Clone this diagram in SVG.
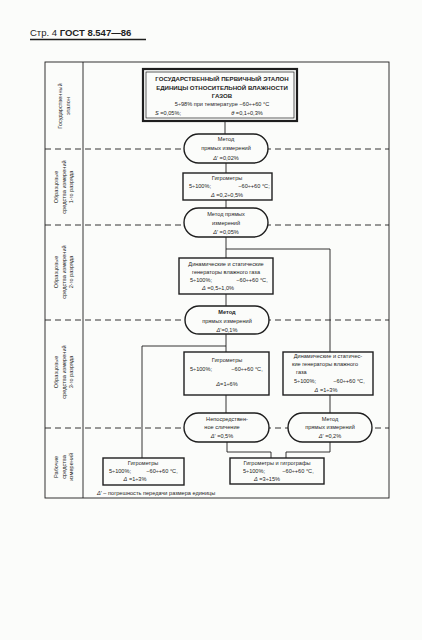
<svg xmlns="http://www.w3.org/2000/svg" width="422" height="640" viewBox="0 0 422 640">
<style>
text{font-family:"Liberation Sans",Arial,sans-serif;fill:#1e1e1e;font-size:5.6px;text-anchor:middle}
.b{font-weight:bold}
.cap{font-weight:bold;font-size:6.1px}
.side{font-size:5.4px}
.box{fill:#fbfcfa;stroke:#1e1e1e;stroke-width:1.4}
.ln{fill:none;stroke:#1e1e1e;stroke-width:0.9}
.dash{fill:none;stroke:#1e1e1e;stroke-width:0.9;stroke-dasharray:6 4}
.i{font-style:italic}
</style>
<rect x="0" y="0" width="422" height="640" fill="#fbfcfa"/>
<g id="header">
<text x="30" y="36" style="font-size:9.5px;text-anchor:start;font-weight:bold"><tspan style="font-weight:normal">Стр. 4</tspan> ГОСТ 8.547—86</text>
<line x1="30" y1="39.5" x2="146" y2="39.5" stroke="#1e1e1e" stroke-width="1.3"/>
</g>
<g id="frame">
<rect x="45" y="62" width="344" height="436" class="ln" stroke-width="1.1"/>
<line x1="83" y1="62" x2="83" y2="498" class="ln"/>
<line x1="45" y1="149" x2="389" y2="149" class="dash"/>
<line x1="45" y1="225" x2="389" y2="225" class="dash"/>
<line x1="45" y1="320" x2="389" y2="320" class="dash"/>
<line x1="45" y1="428" x2="389" y2="428" class="dash"/>
</g>
<g id="side-labels" class="side">
<text transform="translate(62,106) rotate(-90)"><tspan x="0" y="0">Государственный</tspan><tspan x="0" y="7.5">эталон</tspan></text>
<text transform="translate(58,187) rotate(-90)"><tspan x="0" y="0">Образцовые</tspan><tspan x="0" y="7.5">средства измерений</tspan><tspan x="0" y="15">1-го разряда</tspan></text>
<text transform="translate(58,272) rotate(-90)"><tspan x="0" y="0">Образцовые</tspan><tspan x="0" y="7.5">средства измерений</tspan><tspan x="0" y="15">2-го разряда</tspan></text>
<text transform="translate(58,372) rotate(-90)"><tspan x="0" y="0">Образцовые</tspan><tspan x="0" y="7.5">средства измерений</tspan><tspan x="0" y="15">3-го разряда</tspan></text>
<text transform="translate(58,467) rotate(-90)"><tspan x="0" y="0">Рабочие</tspan><tspan x="0" y="7.5">средства</tspan><tspan x="0" y="15">измерений</tspan></text>
</g>
<g id="connectors" class="ln">
<line x1="225" y1="121" x2="225" y2="134"/>
<line x1="226" y1="163" x2="226" y2="173"/>
<line x1="226" y1="200" x2="226" y2="208"/>
<polyline points="226,237 226,258"/>
<polyline points="226,249 330,249 330,352"/>
<line x1="226" y1="294" x2="226" y2="306"/>
<line x1="226" y1="334" x2="226" y2="352"/>
<polyline points="226,346 142,346 142,458"/>
<line x1="226" y1="395" x2="226" y2="413"/>
<line x1="330" y1="395" x2="330" y2="413"/>
<polyline points="227,442 227,452 271,452 271,458"/>
<polyline points="330,442 330,452 286,452 286,458"/>
</g>
<g id="n-primary">
<rect x="143" y="69" width="154" height="52" fill="#fbfcfa" stroke="#1e1e1e" stroke-width="2.2"/>
<rect x="146" y="72" width="148" height="46" fill="none" stroke="#1e1e1e" stroke-width="0.7"/>
<text x="222" y="81" class="cap">ГОСУДАРСТВЕННЫЙ ПЕРВИЧНЫЙ ЭТАЛОН</text>
<text x="222" y="90" class="cap">ЕДИНИЦЫ ОТНОСИТЕЛЬНОЙ ВЛАЖНОСТИ</text>
<text x="222" y="98" class="cap">ГАЗОВ</text>
<text x="222" y="106">5÷98% при температуре −60÷+60 °С</text>
<text x="168" y="115"><tspan class="i">S</tspan> =0,05%;</text>
<text x="247" y="115"><tspan class="i">θ</tspan> =0,1÷0,3%</text>
</g>
<g id="n-method1">
<rect x="184" y="134" width="84" height="29" rx="14.5" class="box"/>
<text x="226" y="141">Метод</text>
<text x="226" y="150">прямых измерений</text>
<text x="226" y="160"><tspan class="i">Δ</tspan>′ =0,02%</text>
</g>
<g id="n-hygro1">
<rect x="183" y="173" width="89" height="27" class="box"/>
<text x="227" y="180">Гигрометры</text>
<text x="200" y="188">5÷100%;</text>
<text x="254" y="188">−60÷+60 °С;</text>
<text x="227" y="197"><tspan class="i">Δ</tspan> =0,2÷0,5%</text>
</g>
<g id="n-method2">
<rect x="184" y="208" width="84" height="29" rx="14.5" class="box"/>
<text x="226" y="216">Метод прямых</text>
<text x="226" y="225">измерений</text>
<text x="226" y="234"><tspan class="i">Δ</tspan>′ =0,05%</text>
</g>
<g id="n-gen2">
<rect x="179" y="258" width="94" height="36" class="box"/>
<text x="226" y="266">Динамические и статические</text>
<text x="226" y="274">генераторы влажного газа</text>
<text x="201" y="282">5÷100%;</text>
<text x="252" y="282">−60÷+60 °С,</text>
<text x="218" y="290"><tspan class="i">Δ</tspan>  =0,5÷1,0%</text>
</g>
<g id="n-method3">
<rect x="185" y="306" width="84" height="28" rx="14" class="box"/>
<text x="227" y="314" class="b">Метод</text>
<text x="227" y="323">прямых измерений</text>
<text x="227" y="332"><tspan class="i">Δ</tspan>′=0,1%</text>
</g>
<g id="n-hygro3">
<rect x="184" y="352" width="85" height="43" class="box"/>
<text x="227" y="362">Гигрометры</text>
<text x="201" y="371">5÷100%;</text>
<text x="247" y="371">−60÷+60 °С,</text>
<text x="227" y="386"><tspan class="i">Δ</tspan>=1÷6%</text>
</g>
<g id="n-gen3">
<rect x="283" y="352" width="90" height="43" class="box"/>
<text x="328" y="358">Динамические и статичес-</text>
<text x="325" y="366">кие генераторы влажного</text>
<text x="296" y="374" style="text-anchor:start">газа</text>
<text x="305" y="383">5÷100%;</text>
<text x="349" y="383">−60÷+60 °С,</text>
<text x="326" y="392"><tspan class="i">Δ</tspan>  =1÷3%</text>
</g>
<g id="n-compare">
<rect x="184" y="413" width="85" height="29" rx="14.5" class="box"/>
<text x="227" y="421">Непосредствен-</text>
<text x="222" y="429">ное сличение</text>
<text x="222" y="438"><tspan class="i">Δ</tspan>′  =0,5%</text>
</g>
<g id="n-method4">
<rect x="288" y="413" width="84" height="29" rx="14.5" class="box"/>
<text x="330" y="421">Метод</text>
<text x="330" y="429">прямых измерений</text>
<text x="330" y="438"><tspan class="i">Δ</tspan>′  =0,2%</text>
</g>
<g id="n-work-hygro">
<rect x="103" y="458" width="81" height="27" class="box"/>
<text x="143" y="465">Гигрометры</text>
<text x="120" y="473">5÷100%;</text>
<text x="162" y="473">−60÷+60 °С,</text>
<text x="135" y="481"><tspan class="i">Δ</tspan>  =1÷3%</text>
</g>
<g id="n-work-graph">
<rect x="230" y="458" width="94" height="26" class="box"/>
<text x="277" y="465">Гигрометры и гигрографы</text>
<text x="254" y="473">5÷100%;</text>
<text x="298" y="473">−60÷+60 °С,</text>
<text x="267" y="481"><tspan class="i">Δ</tspan>  =3÷15%</text>
</g>
<g id="footnote">
<text x="97" y="495" style="text-anchor:start"><tspan class="i">Δ</tspan>′ – погрешность передачи размера единицы</text>
</g>
</svg>
